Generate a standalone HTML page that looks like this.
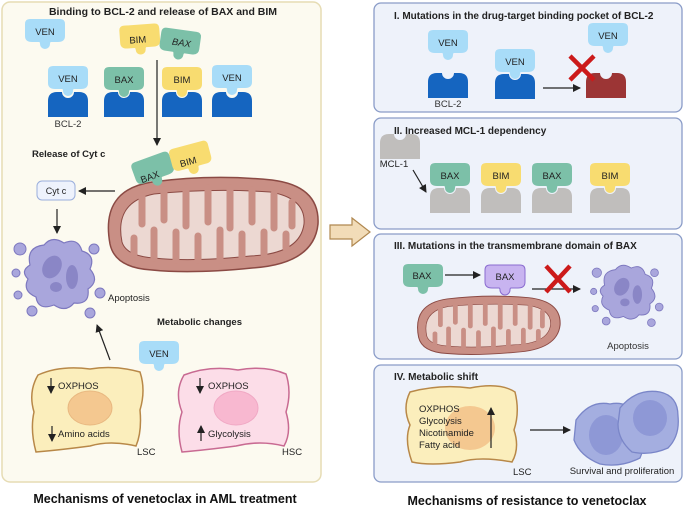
<!DOCTYPE html>
<html><head><meta charset="utf-8"><style>
body{margin:0;background:#fff}
svg{display:block;font-family:"Liberation Sans",sans-serif}
</style></head><body>
<svg width="685" height="507" viewBox="0 0 685 507" xmlns="http://www.w3.org/2000/svg">
<defs>
<path id="lig" d="M5,0 H35 Q40,0 40,5 V17 Q40,23 33,23 H26 Q25,23 25,25 A5,5 0 0 1 15,25 Q15,23 14,23 H7 Q0,23 0,17 V5 Q0,0 5,0 Z"/>
<path id="base" d="M0,25 V9 Q0,0 9,0 H14 A6,6 0 0 0 26,0 H31 Q40,0 40,9 V25 Z"/>
<marker id="ah" markerWidth="8" markerHeight="8" refX="7" refY="4" orient="auto" markerUnits="userSpaceOnUse"><path d="M0,0 L8,4 L0,8 Z" fill="#222"/></marker>
<g id="apo">
<path d="M-30,-10 Q-34,-28 -16,-30 Q-8,-40 4,-32 Q18,-38 22,-24 Q36,-20 30,-6 Q40,6 28,14 Q30,30 14,28 Q6,38 -6,30 Q-22,36 -24,22 Q-38,16 -32,4 Q-40,-4 -30,-10 Z" fill="#a9a6dc" stroke="#7d78bf" stroke-width="1.2"/>
<ellipse cx="-8" cy="-8" rx="9" ry="12" transform="rotate(30 -8 -8)" fill="#8a86c6"/>
<ellipse cx="12" cy="2" rx="6" ry="12" fill="#8a86c6"/>
<ellipse cx="-4" cy="12" rx="6" ry="5" fill="#8a86c6"/>
<circle cx="-40" cy="-26" r="6" fill="#a9a6dc" stroke="#7d78bf"/>
<circle cx="34" cy="-26" r="5" fill="#a9a6dc" stroke="#7d78bf"/>
<circle cx="40" cy="18" r="5" fill="#a9a6dc" stroke="#7d78bf"/>
<circle cx="-42" cy="20" r="4" fill="#a9a6dc" stroke="#7d78bf"/>
<circle cx="-28" cy="36" r="5" fill="#a9a6dc" stroke="#7d78bf"/>
<circle cx="30" cy="38" r="5" fill="#a9a6dc" stroke="#7d78bf"/>
<circle cx="-44" cy="-2" r="4" fill="#a9a6dc" stroke="#7d78bf"/>
</g>
<g id="mito">
<path d="M-102,20 Q-112,-34 -60,-42 Q0,-50 60,-44 Q108,-38 106,0 Q102,40 40,44 Q-20,50 -60,46 Q-97,44 -102,20 Z" fill="#c98f85" stroke="#8b4a44" stroke-width="1.5"/>
<path d="M-90,18 Q-98,-22 -58,-30 Q0,-36 58,-32 Q94,-26 92,0 Q88,30 38,32 Q-20,38 -58,34 Q-86,32 -90,18 Z" fill="#ecd8d2" stroke="#8b4a44" stroke-width="1"/>
<g stroke="#c98f85" stroke-width="7" stroke-linecap="round" fill="none">
<path d="M-70,-28 V0"/><path d="M-48,-34 V-4"/><path d="M-26,-36 V2"/><path d="M-4,-36 V-2"/><path d="M18,-36 V4"/><path d="M40,-34 V-2"/><path d="M62,-30 V4"/><path d="M80,-22 V2"/>
<path d="M-78,30 V14"/><path d="M-58,34 V6"/><path d="M-36,36 V8"/><path d="M-14,36 V12"/><path d="M8,36 V6"/><path d="M30,34 V10"/><path d="M52,30 V8"/><path d="M74,24 V10"/>
</g>
</g>
</defs>

<rect x="2" y="2" width="319" height="480" rx="8" fill="#fcfaf0" stroke="#e6dcb4" stroke-width="1.5"/>
<text x="163" y="15" font-size="10.5" font-weight="bold" text-anchor="middle" fill="#222">Binding to BCL-2 and release of BAX and BIM</text>

<g font-size="9.5" fill="#222" text-anchor="middle">
<use href="#lig" x="25" y="19" fill="#a8dcf8"/><text x="45" y="35">VEN</text>
<use href="#lig" transform="translate(119,26) rotate(-4)" fill="#f8dc70"/><text x="138" y="43" transform="rotate(-4 138 43)">BIM</text>
<use href="#lig" transform="translate(162,27) rotate(8)" fill="#7cc0a8"/><text x="181" y="46" font-style="italic" transform="rotate(8 181 46)">BAX</text>

<use href="#base" x="48" y="92" fill="#1565c0"/><use href="#lig" x="48" y="66" fill="#a8dcf8"/><text x="68" y="82">VEN</text>
<use href="#base" x="104" y="92" fill="#1565c0"/><use href="#lig" x="104" y="67" fill="#7cc0a8"/><text x="124" y="83">BAX</text>
<use href="#base" x="162" y="92" fill="#1565c0"/><use href="#lig" x="162" y="67" fill="#f8dc70"/><text x="182" y="83">BIM</text>
<use href="#base" x="212" y="92" fill="#1565c0"/><use href="#lig" x="212" y="65" fill="#a8dcf8"/><text x="232" y="81">VEN</text>
<text x="68" y="127" fill="#333">BCL-2</text>
</g>
<line x1="157" y1="60" x2="157" y2="145" stroke="#222" stroke-width="1.2" marker-end="url(#ah)"/>
<text x="32" y="157" font-size="9.5" font-weight="bold" fill="#222">Release of Cyt c</text>

<use href="#mito" x="212" y="224"/>
<g font-size="9.5" fill="#222" text-anchor="middle">
<use href="#lig" transform="translate(130,164) rotate(-20)" fill="#7cc0a8"/><text x="151" y="180" transform="rotate(-20 151 180)">BAX</text>
<use href="#lig" transform="translate(168,150) rotate(-15)" fill="#f8dc70"/><text x="189" y="165" transform="rotate(-15 189 165)">BIM</text>
</g>

<rect x="37" y="181" width="38" height="19" rx="5" fill="#eef2fc" stroke="#9aaedc"/>
<text x="56" y="194" font-size="9" text-anchor="middle" fill="#222">Cyt c</text>
<line x1="115" y1="191" x2="79" y2="191" stroke="#222" stroke-width="1.2" marker-end="url(#ah)"/>
<line x1="57" y1="209" x2="57" y2="233" stroke="#222" stroke-width="1.2" marker-end="url(#ah)"/>
<use href="#apo" x="60" y="275"/>
<text x="108" y="301" font-size="9.5" fill="#222">Apoptosis</text>
<text x="157" y="325" font-size="9.5" font-weight="bold" fill="#222">Metabolic changes</text>
<line x1="110" y1="360" x2="97" y2="325" stroke="#222" stroke-width="1.2" marker-end="url(#ah)"/>
<use href="#lig" x="139" y="341" fill="#a8dcf8"/><text x="159" y="357" font-size="9.5" text-anchor="middle" fill="#222">VEN</text>

<path d="M38,375 Q60,365 90,369 Q115,365 140,372 Q146,390 140,410 Q142,432 136,446 Q110,440 90,446 Q60,450 36,452 Q30,430 34,412 Q28,392 38,375 Z" fill="#fbeebc" stroke="#b88848" stroke-width="1.5"/>
<ellipse cx="90" cy="408" rx="22" ry="17" fill="#f4c890" stroke="#e8b880"/>
<g font-size="9.5" fill="#222">
<line x1="51" y1="378" x2="51" y2="393" stroke="#222" stroke-width="1.2" marker-end="url(#ah)"/><text x="58" y="389">OXPHOS</text>
<line x1="52" y1="426" x2="52" y2="441" stroke="#222" stroke-width="1.2" marker-end="url(#ah)"/><text x="58" y="437">Amino acids</text>
<text x="137" y="455">LSC</text>
<path d="M184,375 Q210,365 238,370 Q265,365 286,374 Q292,392 286,412 Q292,432 284,446 Q260,440 236,446 Q205,450 182,452 Q176,430 182,412 Q174,392 184,375 Z" fill="#fcdde8" stroke="#c86a92" stroke-width="1.5"/>
<ellipse cx="236" cy="408" rx="22" ry="17" fill="#f8b8d0" stroke="#f0a8c4"/>
<line x1="200" y1="378" x2="200" y2="393" stroke="#222" stroke-width="1.2" marker-end="url(#ah)"/><text x="208" y="389">OXPHOS</text>
<line x1="201" y1="441" x2="201" y2="426" stroke="#222" stroke-width="1.2" marker-end="url(#ah)"/><text x="208" y="437">Glycolysis</text>
<text x="282" y="455">HSC</text>
</g>
<text x="165" y="503" font-size="12.5" font-weight="bold" text-anchor="middle" fill="#111">Mechanisms of venetoclax in AML treatment</text>

<path d="M330,225 H352 V218 L370,232 L352,246 V239 H330 Z" fill="#f2dcb8" stroke="#b08850" stroke-width="1.2"/>

<g fill="#eef2fa" stroke="#8a9cc8" stroke-width="1.3">
<rect x="374" y="3" width="308" height="109" rx="7"/>
<rect x="374" y="118" width="308" height="111" rx="7"/>
<rect x="374" y="234" width="308" height="125" rx="7"/>
<rect x="374" y="365" width="308" height="117" rx="7"/>
</g>
<g font-size="10" font-weight="bold" fill="#222">
<text x="394" y="19">I. Mutations in the drug-target binding pocket of BCL-2</text>
<text x="394" y="134">II. Increased MCL-1 dependency</text>
<text x="394" y="249">III. Mutations in the transmembrane domain of BAX</text>
<text x="394" y="380">IV. Metabolic shift</text>
</g>
<g font-size="9.5" fill="#222" text-anchor="middle">
<use href="#lig" x="428" y="30" fill="#a8dcf8"/><text x="448" y="46">VEN</text>
<use href="#base" x="428" y="73" fill="#1565c0"/><text x="448" y="107" fill="#333">BCL-2</text>
<use href="#base" x="495" y="74" fill="#1565c0"/><use href="#lig" x="495" y="49" fill="#a8dcf8"/><text x="515" y="65">VEN</text>
<line x1="543" y1="88" x2="580" y2="88" stroke="#222" stroke-width="1.2" marker-end="url(#ah)"/>
<use href="#base" x="586" y="73" fill="#9c3535"/>
<use href="#lig" x="588" y="23" fill="#a8dcf8"/><text x="608" y="39">VEN</text>
<path d="M570,56 L594,80 M594,56 L570,80" stroke="#cc1a1a" stroke-width="4.5"/>
<use href="#base" transform="translate(380,134)" fill="#c0bebc"/><text x="394" y="167">MCL-1</text>
<line x1="413" y1="170" x2="426" y2="192" stroke="#222" stroke-width="1.2" marker-end="url(#ah)"/>
<use href="#base" x="430" y="188" fill="#c0bebc"/><use href="#lig" x="430" y="163" fill="#7cc0a8"/><text x="450" y="179">BAX</text>
<use href="#base" x="481" y="188" fill="#c0bebc"/><use href="#lig" x="481" y="163" fill="#f8dc70"/><text x="501" y="179">BIM</text>
<use href="#base" x="532" y="188" fill="#c0bebc"/><use href="#lig" x="532" y="163" fill="#7cc0a8"/><text x="552" y="179">BAX</text>
<use href="#base" x="590" y="188" fill="#c0bebc"/><use href="#lig" x="590" y="163" fill="#f8dc70"/><text x="610" y="179">BIM</text>
</g>
<g transform="translate(488,325) scale(0.68,0.62)"><use href="#mito"/></g>
<g font-size="9.5" fill="#222" text-anchor="middle">
<use href="#lig" x="403" y="264" fill="#7cc0a8"/><text x="422" y="279">BAX</text>
<line x1="445" y1="275" x2="480" y2="275" stroke="#222" stroke-width="1.2" marker-end="url(#ah)"/>
<use href="#lig" x="485" y="265" fill="#c8b4f0" stroke="#8a6cd0"/><text x="505" y="280">BAX</text>
<line x1="532" y1="289" x2="580" y2="289" stroke="#222" stroke-width="1.2" marker-end="url(#ah)"/>
<path d="M546,266 L570,292 M570,266 L546,292" stroke="#cc1a1a" stroke-width="4.5"/>
<g transform="translate(628,293) scale(0.78)"><use href="#apo"/></g>
<text x="628" y="349" fill="#333">Apoptosis</text>
</g>
<path d="M410,392 Q440,384 470,388 Q500,382 515,392 Q520,412 514,430 Q520,448 512,462 Q480,456 460,462 Q430,466 412,462 Q404,440 410,425 Q402,408 410,392 Z" fill="#fbeebc" stroke="#b88848" stroke-width="1.5"/>
<ellipse cx="470" cy="428" rx="25" ry="22" fill="#f4c890"/>
<g font-size="9.5" fill="#222">
<text x="419" y="412">OXPHOS</text><text x="419" y="424">Glycolysis</text><text x="419" y="436">Nicotinamide</text><text x="419" y="448">Fatty acid</text>
<line x1="491" y1="448" x2="491" y2="408" stroke="#222" stroke-width="1.2" marker-end="url(#ah)"/>
<text x="513" y="475">LSC</text>
</g>
<line x1="530" y1="430" x2="570" y2="430" stroke="#222" stroke-width="1.2" marker-end="url(#ah)"/>
<path d="M576,420 Q590,400 610,404 Q630,400 640,420 Q648,440 640,458 Q620,468 600,464 Q580,456 574,440 Z" fill="#a4aee0" stroke="#7a86c8" stroke-width="1.3"/>
<ellipse cx="606" cy="435" rx="17" ry="20" fill="#8e98d6"/>
<path d="M620,408 Q636,388 660,392 Q678,396 678,416 Q680,436 668,448 Q650,456 632,452 Q618,440 618,424 Z" fill="#a4aee0" stroke="#7a86c8" stroke-width="1.3"/>
<ellipse cx="650" cy="418" rx="17" ry="18" fill="#8e98d6"/>
<text x="622" y="474" font-size="9.5" text-anchor="middle" fill="#222">Survival and proliferation</text>
<text x="527" y="505" font-size="12.5" font-weight="bold" text-anchor="middle" fill="#111">Mechanisms of resistance to venetoclax</text>
</svg>
</body></html>
